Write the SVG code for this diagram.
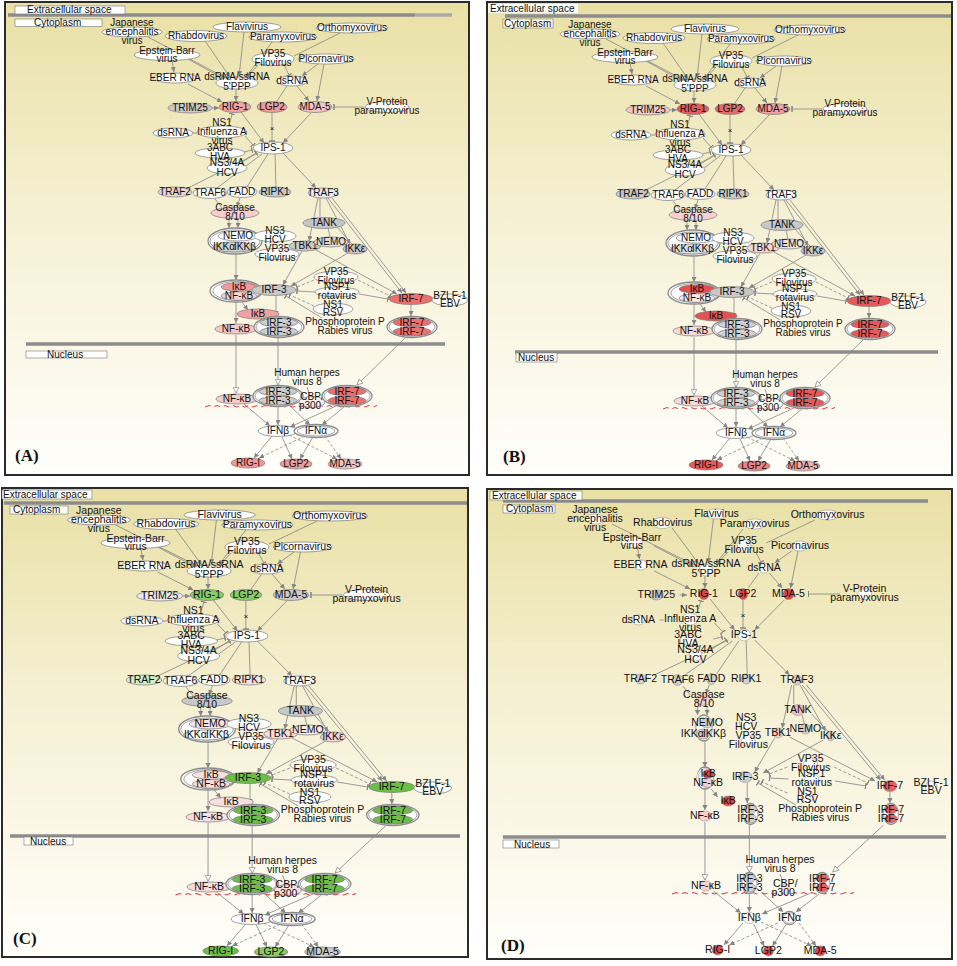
<svg xmlns="http://www.w3.org/2000/svg" width="957" height="966" viewBox="0 0 957 966">
<style>
text{font-family:"Liberation Sans",Arial,sans-serif;font-size:10px;fill:#111}
.n text{text-anchor:middle}
.n ellipse{stroke:#7a7a7a;stroke-width:.7;transform-box:fill-box;transform-origin:center;transform:scale(var(--sx,1),var(--sy,1))}
.n .o1{stroke:#8a8a8a;stroke-width:1.3}
.o2{fill:none}
.w,.o1{fill:var(--w,#fff)}
.trim25{fill:var(--trim25,#fff)}.rig1{fill:var(--rig1,#fff)}.lgp2{fill:var(--lgp2,#fff)}.mda5{fill:var(--mda5,#fff)}
.traf2{fill:var(--traf2,#fff)}.traf6{fill:var(--traf6,#fff)}.fadd{fill:var(--fadd,#fff)}.ripk1{fill:var(--ripk1,#fff)}
.traf3{fill:var(--traf3,#fff)}.casp{fill:var(--casp,#fff)}.nemoT{fill:var(--nemoT,#fff)}.ikk{fill:var(--ikk,#fff)}
.tank{fill:var(--tank,#fff)}.tbk1{fill:var(--tbk1,#fff)}.nemo2{fill:var(--nemo2,#fff)}.ikke{fill:var(--ikke,#fff)}
.ikb{fill:var(--ikb,#fff)}.nfkb{fill:var(--nfkb,#fff)}.irf3{fill:var(--irf3,#fff)}.irf7{fill:var(--irf7,#fff)}
.ikb2{fill:var(--ikb2,#fff)}.nfkb2{fill:var(--nfkb2,#fff)}.irf3d{fill:var(--irf3d,#fff)}.irf7d{fill:var(--irf7d,#fff)}
.nfkbn{fill:var(--nfkbn,#fff)}.irf3n{fill:var(--irf3n,#fff)}.irf7n{fill:var(--irf7n,#fff)}.cbp{fill:var(--cbp,#fff)}
.rigI{fill:var(--rigI,#fff)}.lgp2b{fill:var(--lgp2b,#fff)}.mda5b{fill:var(--mda5b,#fff)}
.c path{stroke:#858585;stroke-width:.8;fill:none}
.a{marker-end:url(#ah)}
.t{marker-end:url(#tb)}
.v{marker-end:url(#oa)}
.d{stroke-dasharray:3 2}
.c .dna{stroke:#e23a3a;stroke-width:1;fill:none;stroke-dasharray:6 4}
.frame{fill:url(#bg);stroke:#2b2b2b;stroke-width:2}
.mem{stroke:#8c8c8c;stroke-width:3.5}
.box{fill:#fff;stroke:#777;stroke-width:.6}
.let{font-family:"Liberation Serif","Times New Roman",serif;font-size:17px;font-weight:bold}
</style>
<defs>
<linearGradient id="bg" x1="0" y1="0" x2="0" y2="1">
<stop offset="0" stop-color="#e9e0a5"/><stop offset=".45" stop-color="#f5f0d3"/><stop offset="1" stop-color="#fffefa"/>
</linearGradient>
<marker id="ah" viewBox="0 0 6 6" refX="6" refY="3" markerWidth="5" markerHeight="5" markerUnits="userSpaceOnUse" orient="auto"><path d="M0,0L6,3L0,6z" fill="#858585"/></marker>
<marker id="tb" viewBox="0 0 2 8" refX="1" refY="4" markerWidth="1.5" markerHeight="6" markerUnits="userSpaceOnUse" orient="auto"><rect width="2" height="8" fill="#858585"/></marker>
<marker id="oa" viewBox="0 0 10 10" refX="9" refY="5" markerWidth="7" markerHeight="7" markerUnits="userSpaceOnUse" orient="auto"><path d="M1,1L9,5L1,9z" fill="#fff" stroke="#858585"/></marker>
<g id="tpl">
<g id="connectors" class="c">
<path class="a" d="M148,37L226,78"/>
<path class="a" d="M205,41L230,77"/>
<path class="a" d="M244,32L239,76"/>
<path class="a" d="M272,42L246,77"/>
<path d="M340,33L294,56"/>
<path class="t" d="M258,65L248,76"/>
<path class="t" d="M284,65L289,75"/>
<path class="a" d="M172,60L174,72"/>
<path class="a" d="M188,59L226,80"/>
<path class="a" d="M318,64L302,76"/>
<path class="a" d="M324,64L317,101"/>
<path class="a" d="M188,84L222,102"/>
<path class="a" d="M236,89L236,101"/>
<path d="M287,86L277,101"/>
<path class="a" d="M297,86L309,101"/>
<path class="t" d="M364,107L334,107"/>
<path class="a" d="M212,108L219,108"/>
<path class="a" d="M241,112L264,143"/>
<path class="t" d="M272,113L272,141"/>
<path class="a" d="M311,113L283,143"/>
<path class="t" d="M230,122L232,114"/>
<path class="t" d="M245,136L253,145"/>
<path d="M193,133L197,133"/>
<path class="t" d="M244,152L252,150"/>
<path class="t" d="M241,163L256,153"/>
<path d="M258,153L188,188"/>
<path d="M262,154L217,188"/>
<path d="M268,154L247,187"/>
<path d="M275,154L276,187"/>
<path class="a" d="M283,153L316,188"/>
<path class="a" d="M240,198L237,207"/>
<path d="M215,199L222,208"/>
<path class="a" d="M229,219L229,228"/>
<path class="a" d="M238,219L238,228"/>
<path d="M320,198L320,217"/>
<path class="a" d="M318,198L309,241"/>
<path class="a" d="M326,198L350,244"/>
<path class="a" d="M328,198L402,293"/>
<path class="a" d="M332,198L406,293"/>
<path d="M328,228L330,237"/>
<path d="M337,227L352,244"/>
<path class="a" d="M302,251L283,285"/>
<path class="a" d="M316,250L397,294"/>
<path class="a" d="M348,253L291,286"/>
<path class="a" d="M236,254L236,280"/>
<path class="t d" d="M314,280L297,287"/>
<path class="t d" d="M358,280L390,296"/>
<path class="t" d="M315,292L297,291"/>
<path class="t" d="M359,294L388,299"/>
<path class="t d" d="M314,306L290,295"/>
<path class="t" d="M322,318L286,296"/>
<path class="a" d="M276,296L276,316"/>
<path class="a" d="M242,302L248,310"/>
<path class="a" d="M236,302L236,323"/>
<path class="a" d="M411,305L411,316"/>
<path class="v" d="M236,335L236,393"/>
<path class="v" d="M278,338L278,385"/>
<path class="v" d="M405,338L357,385"/>
<path d="M307,387L310,396"/>
<path class="a" d="M244,404L270,426"/>
<path class="a" d="M278,407L278,425"/>
<path class="a" d="M290,406L310,425"/>
<path class="a" d="M336,406L290,427"/>
<path class="a" d="M344,407L322,425"/>
<path class="a" d="M272,436L254,458"/>
<path class="a" d="M282,437L292,459"/>
<path class="a d" d="M289,435L337,459"/>
<path class="a d" d="M305,436L259,458"/>
<path class="a" d="M313,437L300,459"/>
<path class="a d" d="M325,436L341,459"/>
<path class="dna" d="M205,407l4-1.5 4 1.5 4-1.5 4 1.5 4-1.5 4 1.5 4-1.5 4 1.5 4-1.5 4 1.5 4-1.5 4 1.5 4-1.5 4 1.5 4-1.5 4 1.5 4-1.5 4 1.5 4-1.5 4 1.5 4-1.5 4 1.5 4-1.5 4 1.5 4-1.5 4 1.5 4-1.5 4 1.5 4-1.5 4 1.5 4-1.5 4 1.5 4-1.5 4 1.5 4-1.5 4 1.5 4-1.5 4 1.5 4-1.5 4 1.5 4-1.5 4 1.5 4-1.5"/>
</g>
<text x="272" y="131" style="font-size:8px;text-anchor:middle">×</text>
<g id="n-jev" class="n"><ellipse class="w" cx="132" cy="32" rx="30" ry="5"/><text x="132" y="26.3">Japanese</text><text x="132" y="35.3">encephalitis</text><text x="132" y="44.3">virus</text></g>
<g id="n-rhabdo" class="n"><ellipse class="w" cx="196" cy="36" rx="31" ry="5.5"/><text x="196" y="39.3">Rhabdovirus</text></g>
<g id="n-flavi" class="n"><ellipse class="w" cx="247" cy="27" rx="34" ry="5"/><text x="247" y="30.3">Flavivirus</text></g>
<g id="n-paramyxo" class="n"><ellipse class="w" cx="283" cy="37" rx="34" ry="5"/><text x="283" y="40.3">Paramyxovirus</text></g>
<g id="n-orthomyxo" class="n"><ellipse class="w" cx="352" cy="28" rx="36" ry="5"/><text x="352" y="31.3">Orthomyxovirus</text></g>
<g id="n-ebv" class="n"><ellipse class="w" cx="167" cy="55" rx="33" ry="5.5"/><text x="167" y="54.3">Epstein-Barr</text><text x="167" y="62.3">virus</text></g>
<g id="n-vp35a" class="n"><ellipse class="w" cx="273" cy="59" rx="21" ry="6.5"/><text x="273" y="57.3">VP35</text><text x="273" y="66.3">Filovirus</text></g>
<g id="n-picorna" class="n"><ellipse class="w" cx="326" cy="59" rx="28" ry="5"/><text x="326" y="62.3">Picornavirus</text></g>
<g id="n-eber" class="n"><ellipse class="w" cx="175" cy="78" rx="22" ry="5"/><text x="175" y="81.3">EBER RNA</text></g>
<g id="n-dsss" class="n"><ellipse class="w" cx="237" cy="83" rx="21" ry="6"/><text x="237" y="80.3">dsRNA/ssRNA</text><text x="237" y="90.3">5'PPP</text></g>
<g id="n-dsrna1" class="n"><ellipse class="w" cx="292" cy="81" rx="15.5" ry="5"/><text x="292" y="84.3">dsRNA</text></g>
<g id="n-trim25" class="n"><ellipse class="trim25" cx="190" cy="108" rx="22" ry="5"/><text x="190" y="111.3">TRIM25</text></g>
<g id="n-rig1" class="n"><ellipse class="rig1" cx="235" cy="107" rx="16" ry="5.5"/><text x="235" y="110.3">RIG-1</text></g>
<g id="n-lgp2" class="n"><ellipse class="lgp2" cx="272" cy="107" rx="15" ry="5.5"/><text x="272" y="110.3">LGP2</text></g>
<g id="n-mda5" class="n"><ellipse class="mda5" cx="315" cy="107" rx="17" ry="5.5"/><text x="315" y="110.3">MDA-5</text></g>
<g id="n-vprot" class="n"><ellipse class="w" cx="387" cy="107" rx="22" ry="5.5"/><text x="387" y="105.3">V-Protein</text><text x="387" y="114.3">paramyxovirus</text></g>
<g id="n-ns1" class="n"><ellipse class="w" cx="222" cy="132" rx="25" ry="6"/><text x="222" y="126.3">NS1</text><text x="222" y="135.3">Influenza A</text><text x="222" y="144.3">virus</text></g>
<g id="n-dsrna2" class="n"><ellipse class="w" cx="173" cy="133" rx="20" ry="5"/><text x="173" y="136.3">dsRNA</text></g>
<g id="n-ips1" class="n"><ellipse class="w" cx="273" cy="148" rx="20" ry="6"/><text x="273" y="151.3">IPS-1</text></g>
<g id="n-abc" class="n"><ellipse class="w" cx="220" cy="153" rx="25" ry="5"/><text x="220" y="151.3">3ABC</text><text x="220" y="160.3">HVA</text></g>
<g id="n-ns34a" class="n"><ellipse class="w" cx="227" cy="168" rx="20" ry="6"/><text x="227" y="166.3">NS3/4A</text><text x="227" y="176.3">HCV</text></g>
<g id="n-traf2" class="n"><ellipse class="traf2" cx="175" cy="192" rx="17" ry="5"/><text x="175" y="195.3">TRAF2</text></g>
<g id="n-traf6" class="n"><ellipse class="traf6" cx="210" cy="193" rx="17" ry="5.5"/><text x="210" y="196.3">TRAF6</text></g>
<g id="n-fadd" class="n"><ellipse class="fadd" cx="242" cy="192" rx="15" ry="5.5"/><text x="242" y="195.3">FADD</text></g>
<g id="n-ripk1" class="n"><ellipse class="ripk1" cx="275" cy="192" rx="16" ry="5"/><text x="275" y="195.3">RIPK1</text></g>
<g id="n-traf3" class="n"><ellipse class="traf3" cx="323" cy="193" rx="15" ry="5"/><text x="323" y="196.3">TRAF3</text></g>
<g id="n-casp" class="n"><ellipse class="casp" cx="235" cy="213" rx="24" ry="5.5"/><text x="235" y="211.3">Caspase</text><text x="235" y="220.3">8/10</text></g>
<g id="n-nemocx" class="n"><ellipse class="o1" cx="235" cy="241" rx="27" ry="13"/><ellipse class="o2" cx="235" cy="241" rx="25" ry="11"/><ellipse class="nemoT" cx="238" cy="236" rx="20" ry="5"/><ellipse class="ikk" cx="234" cy="247" rx="21" ry="5"/><text x="238" y="239.3">NEMO</text><text x="224" y="250.3">IKKα</text><text x="245" y="250.3">IKKβ</text></g>
<g id="n-ns3" class="n"><ellipse class="w" cx="275" cy="236" rx="21" ry="6"/><text x="275" y="234.3">NS3</text><text x="275" y="243.3">HCV</text></g>
<g id="n-vp35b" class="n"><ellipse class="w" cx="277" cy="254" rx="22" ry="5.5"/><text x="277" y="252.3">VP35</text><text x="277" y="261.3">Filovirus</text></g>
<g id="n-tank" class="n"><ellipse class="tank" cx="324" cy="223" rx="21" ry="5.5"/><text x="324" y="226.3">TANK</text></g>
<g id="n-tbk1" class="n"><ellipse class="tbk1" cx="305" cy="246" rx="16" ry="5"/><text x="305" y="249.3">TBK1</text></g>
<g id="n-nemo2" class="n"><ellipse class="nemo2" cx="331" cy="242" rx="17" ry="5"/><text x="331" y="245.3">NEMO</text></g>
<g id="n-ikke" class="n"><ellipse class="ikke" cx="355" cy="249" rx="12" ry="5"/><text x="355" y="252.3">IKKε</text></g>
<g id="n-ikbnfkb" class="n"><ellipse class="o1" cx="236" cy="291" rx="26" ry="11"/><ellipse class="o2" cx="237" cy="291" rx="24" ry="9.5"/><ellipse class="ikb" cx="239" cy="287" rx="18" ry="4.3"/><ellipse class="nfkb" cx="239" cy="296" rx="18" ry="4.3"/><text x="239" y="290.3">IκB</text><text x="239" y="299.3">NF-κB</text></g>
<g id="n-irf3" class="n"><ellipse class="irf3" cx="274" cy="290" rx="22" ry="5.5"/><text x="274" y="293.3">IRF-3</text></g>
<g id="n-vp35c" class="n"><ellipse class="w" cx="336" cy="277" rx="22" ry="6"/><text x="336" y="275.3">VP35</text><text x="336" y="284.3">Filovirus</text></g>
<g id="n-nsp1" class="n"><ellipse class="w" cx="337" cy="292" rx="22" ry="5"/><text x="337" y="290.3">NSP1</text><text x="337" y="299.3">rotavirus</text></g>
<g id="n-ns1b" class="n"><ellipse class="w" cx="333" cy="309" rx="20" ry="6"/><text x="333" y="308.3">NS1</text><text x="333" y="316.3">RSV</text></g>
<g id="n-irf7" class="n"><ellipse class="irf7" cx="411" cy="299" rx="22" ry="5.5"/><text x="411" y="302.3">IRF-7</text></g>
<g id="n-bzlf" class="n"><ellipse class="w" cx="450" cy="300" rx="18" ry="6"/><text x="450" y="299.3">BZLF-1</text><text x="450" y="307.3">EBV</text></g>
<g id="n-ikb2" class="n"><ellipse class="ikb2" cx="258" cy="314" rx="21" ry="5"/><text x="258" y="317.3">IκB</text></g>
<g id="n-nfkb2" class="n"><ellipse class="nfkb2" cx="236" cy="329" rx="21" ry="5"/><text x="236" y="332.3">NF-κB</text></g>
<g id="n-irf3d" class="n"><ellipse class="o1" cx="279" cy="327" rx="25" ry="10.5"/><ellipse class="o2" cx="279" cy="327" rx="23" ry="9"/><ellipse class="irf3d" cx="279" cy="322.5" rx="19" ry="4.3"/><ellipse class="irf3d" cx="279" cy="331.5" rx="19" ry="4.3"/><text x="279" y="325.8">IRF-3</text><text x="279" y="334.8">IRF-3</text></g>
<g id="n-phos" class="n"><text x="345" y="325.3">Phosphoprotein P</text><text x="345" y="334.3">Rabies virus</text></g>
<g id="n-irf7d" class="n"><ellipse class="o1" cx="412" cy="327" rx="25" ry="10.5"/><ellipse class="o2" cx="412" cy="327" rx="23" ry="9"/><ellipse class="irf7d" cx="412" cy="322.5" rx="19" ry="4.3"/><ellipse class="irf7d" cx="412" cy="331.5" rx="19" ry="4.3"/><text x="412" y="325.8">IRF-7</text><text x="412" y="334.8">IRF-7</text></g>
<g id="n-hhv8" class="n"><text x="307" y="376.3">Human herpes</text><text x="307" y="385.3">virus 8</text></g>
<g id="n-nfkbn" class="n"><ellipse class="nfkbn" cx="237" cy="399" rx="21" ry="5"/><text x="237" y="402.3">NF-κB</text></g>
<g id="n-irf3n" class="n"><ellipse class="o1" cx="278" cy="396" rx="25" ry="10.5"/><ellipse class="o2" cx="278" cy="396" rx="23" ry="9"/><ellipse class="irf3n" cx="278" cy="391.5" rx="19" ry="4.3"/><ellipse class="irf3n" cx="278" cy="400.5" rx="19" ry="4.3"/><text x="278" y="394.8">IRF-3</text><text x="278" y="403.8">IRF-3</text></g>
<g id="n-cbp" class="n"><ellipse class="cbp" cx="312" cy="402" rx="13" ry="5.5"/><text x="312" y="400.3">CBP/</text><text x="310" y="409.3">p300</text></g>
<g id="n-irf7n" class="n"><ellipse class="o1" cx="347" cy="396" rx="25" ry="10.5"/><ellipse class="o2" cx="347" cy="396" rx="23" ry="9"/><ellipse class="irf7n" cx="347" cy="391.5" rx="19" ry="4.3"/><ellipse class="irf7n" cx="347" cy="400.5" rx="19" ry="4.3"/><text x="347" y="394.8">IRF-7</text><text x="347" y="403.8">IRF-7</text></g>
<g id="n-ifnb" class="n"><ellipse class="w" cx="278" cy="431" rx="20" ry="5.5"/><text x="278" y="434.3">IFNβ</text></g>
<g id="n-ifna" class="n"><ellipse class="o1" cx="316" cy="431" rx="22" ry="6.5"/><ellipse class="o2" cx="316" cy="431" rx="19" ry="5"/><text x="316" y="434.3">IFNα</text></g>
<g id="n-rigI" class="n"><ellipse class="rigI" cx="248" cy="463" rx="17" ry="5"/><text x="248" y="466.3">RIG-I</text></g>
<g id="n-lgp2b" class="n"><ellipse class="lgp2b" cx="296" cy="464" rx="16" ry="5"/><text x="296" y="467.3">LGP2</text></g>
<g id="n-mda5b" class="n"><ellipse class="mda5b" cx="345" cy="464" rx="17" ry="5"/><text x="345" y="467.3">MDA-5</text></g>
</g>
</defs>
<rect width="957" height="966" fill="#fff"/>
<g id="panelA">
<rect class="frame" x="5" y="2" width="464" height="473"/>
<line class="mem" x1="8" y1="15" x2="415" y2="15"/><line x1="415" y1="15" x2="452" y2="15" stroke="#aaa" stroke-width="3.5"/>
<line class="mem" x1="26" y1="344" x2="445" y2="344"/>
<rect class="box" x="15" y="6" width="110" height="8"/><text x="27" y="13">Extracellular space</text>
<rect class="box" x="15" y="19" width="87" height="7.5"/><text x="34" y="26">Cytoplasm</text>
<rect class="box" x="26" y="351" width="81" height="7"/><text x="47" y="358">Nucleus</text>
<use href="#tpl" style="--trim25:#c9c9c9;--rig1:#f3a3a3;--lgp2:#f09c9c;--mda5:#f6c4c4;--traf2:#e6d6d6;--ripk1:#c8c8c8;--traf3:#ececec;--casp:#f8cccc;--ikk:#d0d0d0;--tank:#c6c6c6;--tbk1:#c8c8c8;--nemo2:#dcdcdc;--ikke:#c4c4c4;--ikb:#f09a9a;--nfkb:#f8d4d4;--irf3:#c8c8c8;--irf7:#ee6e6e;--ikb2:#f2a0a0;--nfkb2:#f6c8c8;--irf3d:#cdcdcd;--irf7d:#ee6e6e;--nfkbn:#f6cccc;--irf3n:#cdcdcd;--irf7n:#ee6e6e;--cbp:#faefe8;--rigI:#f09a9a;--lgp2b:#f09a9a;--mda5b:#f6c0c0"/>
<text class="let" x="15" y="461">(A)</text>
</g>
<g id="panelB">
<rect class="frame" x="487" y="2" width="465" height="473"/>
<line class="mem" x1="505" y1="16" x2="951" y2="16" stroke-width="3"/>
<line class="mem" x1="515" y1="352" x2="938" y2="352" stroke-width="2"/>
<rect x="488" y="4" width="90" height="9" fill="#fff"/><text x="490" y="11.5">Extracellular space</text>
<rect class="box" x="503" y="19" width="50" height="9"/><text x="504" y="27">Cytoplasm</text>
<rect class="box" x="516" y="353" width="41" height="9"/><text x="518" y="360.5">Nucleus</text>
<use href="#tpl" transform="translate(458,2)" style="--trim25:#f0c8c8;--rig1:#e85a5a;--lgp2:#e86a6a;--mda5:#f2a0a0;--traf2:#c8c8c8;--ripk1:#c8c8c8;--casp:#f8d0d0;--ikk:#e0e0e0;--tank:#c8c8c8;--tbk1:#f6d4d4;--nemo2:#e4e4e4;--ikke:#c8c8c8;--ikb:#e55050;--nfkb:#fbeaea;--irf3:#c8c8c8;--irf7:#e85858;--ikb2:#e55050;--nfkb2:#f8dada;--irf3d:#d0d0d0;--irf7d:#e85858;--nfkbn:#f8dada;--irf3n:#d0d0d0;--irf7n:#e85858;--rigI:#e85a5a;--lgp2b:#f08080;--mda5b:#f4b0b0"/>
<text class="let" x="503" y="462">(B)</text>
</g>
<g id="panelC">
<rect class="frame" x="2" y="488" width="466" height="469"/>
<line class="mem" x1="4" y1="503" x2="467" y2="503"/>
<line class="mem" x1="10" y1="836" x2="460" y2="836"/>
<rect class="box" x="2" y="490" width="90" height="9"/><text x="3" y="497.5">Extracellular space</text>
<rect class="box" x="10" y="506" width="58" height="8"/><text x="13" y="513">Cytoplasm</text>
<rect class="box" x="24" y="837" width="49" height="8"/><text x="30" y="844.5">Nucleus</text>
<use href="#tpl" transform="matrix(1.05,0,0,1,-39.75,488)" style="--trim25:#e8e8e8;--rig1:#88cc66;--lgp2:#88cc66;--mda5:#cccccc;--traf2:#d4ecc8;--ripk1:#f8dede;--casp:#c8c8c8;--nemoT:#fbe4e4;--tank:#c8c8c8;--tbk1:#f8dcdc;--nemo2:#fbeaea;--ikke:#f6d4d4;--ikb:#f8dede;--nfkb:#f8dede;--irf3:#6cbf45;--irf7:#6cbf45;--ikb2:#f8dede;--nfkb2:#f8dede;--irf3d:#6cbf45;--irf7d:#6cbf45;--nfkbn:#f8dede;--irf3n:#6cbf45;--irf7n:#6cbf45;--cbp:#f8dede;--rigI:#6cbf45;--lgp2b:#88cc66;--mda5b:#cccccc"/>
<text class="let" x="13" y="944">(C)</text>
</g>
<g id="panelD">
<rect class="frame" x="487" y="489" width="465" height="470"/>
<line class="mem" x1="503" y1="501" x2="928" y2="501" stroke-width="3"/>
<line class="mem" x1="503" y1="837" x2="946" y2="837" stroke-width="3"/>
<rect class="box" x="490" y="491" width="92" height="9"/><text x="492" y="498.5">Extracellular space</text>
<rect class="box" x="503" y="505" width="52" height="8"/><text x="506" y="512">Cytoplasm</text>
<rect class="box" x="503" y="840" width="56" height="8"/><text x="514" y="847.5">Nucleus</text>
<use href="#tpl" transform="matrix(1.057,0,0,1,455.5,487)" style="--sx:.3;--w:#fff;--trim25:#c8c8c8;--rig1:#e04848;--lgp2:#e04848;--mda5:#e04848;--traf2:#d0d0d0;--traf6:#d0d0d0;--fadd:#d0d0d0;--ripk1:#d0d0d0;--traf3:#d0d0d0;--casp:#f8d0d0;--nemoT:#d0d0d0;--ikk:#d0d0d0;--tank:#f4c0c0;--tbk1:#f4c8c8;--nemo2:#d0d0d0;--ikke:#d0d0d0;--ikb:#e04848;--nfkb:#f8d0d0;--irf3:#d0d0d0;--irf7:#e86060;--ikb2:#e04848;--nfkb2:#f8d0d0;--irf3d:#d0d0d0;--irf7d:#e86060;--nfkbn:#f8d0d0;--irf3n:#d0d0d0;--irf7n:#e86060;--cbp:#f8e0e0;--rigI:#e04848;--lgp2b:#e04848;--mda5b:#e04848"/>
<text class="let" x="501" y="951">(D)</text>
</g>
</svg>
